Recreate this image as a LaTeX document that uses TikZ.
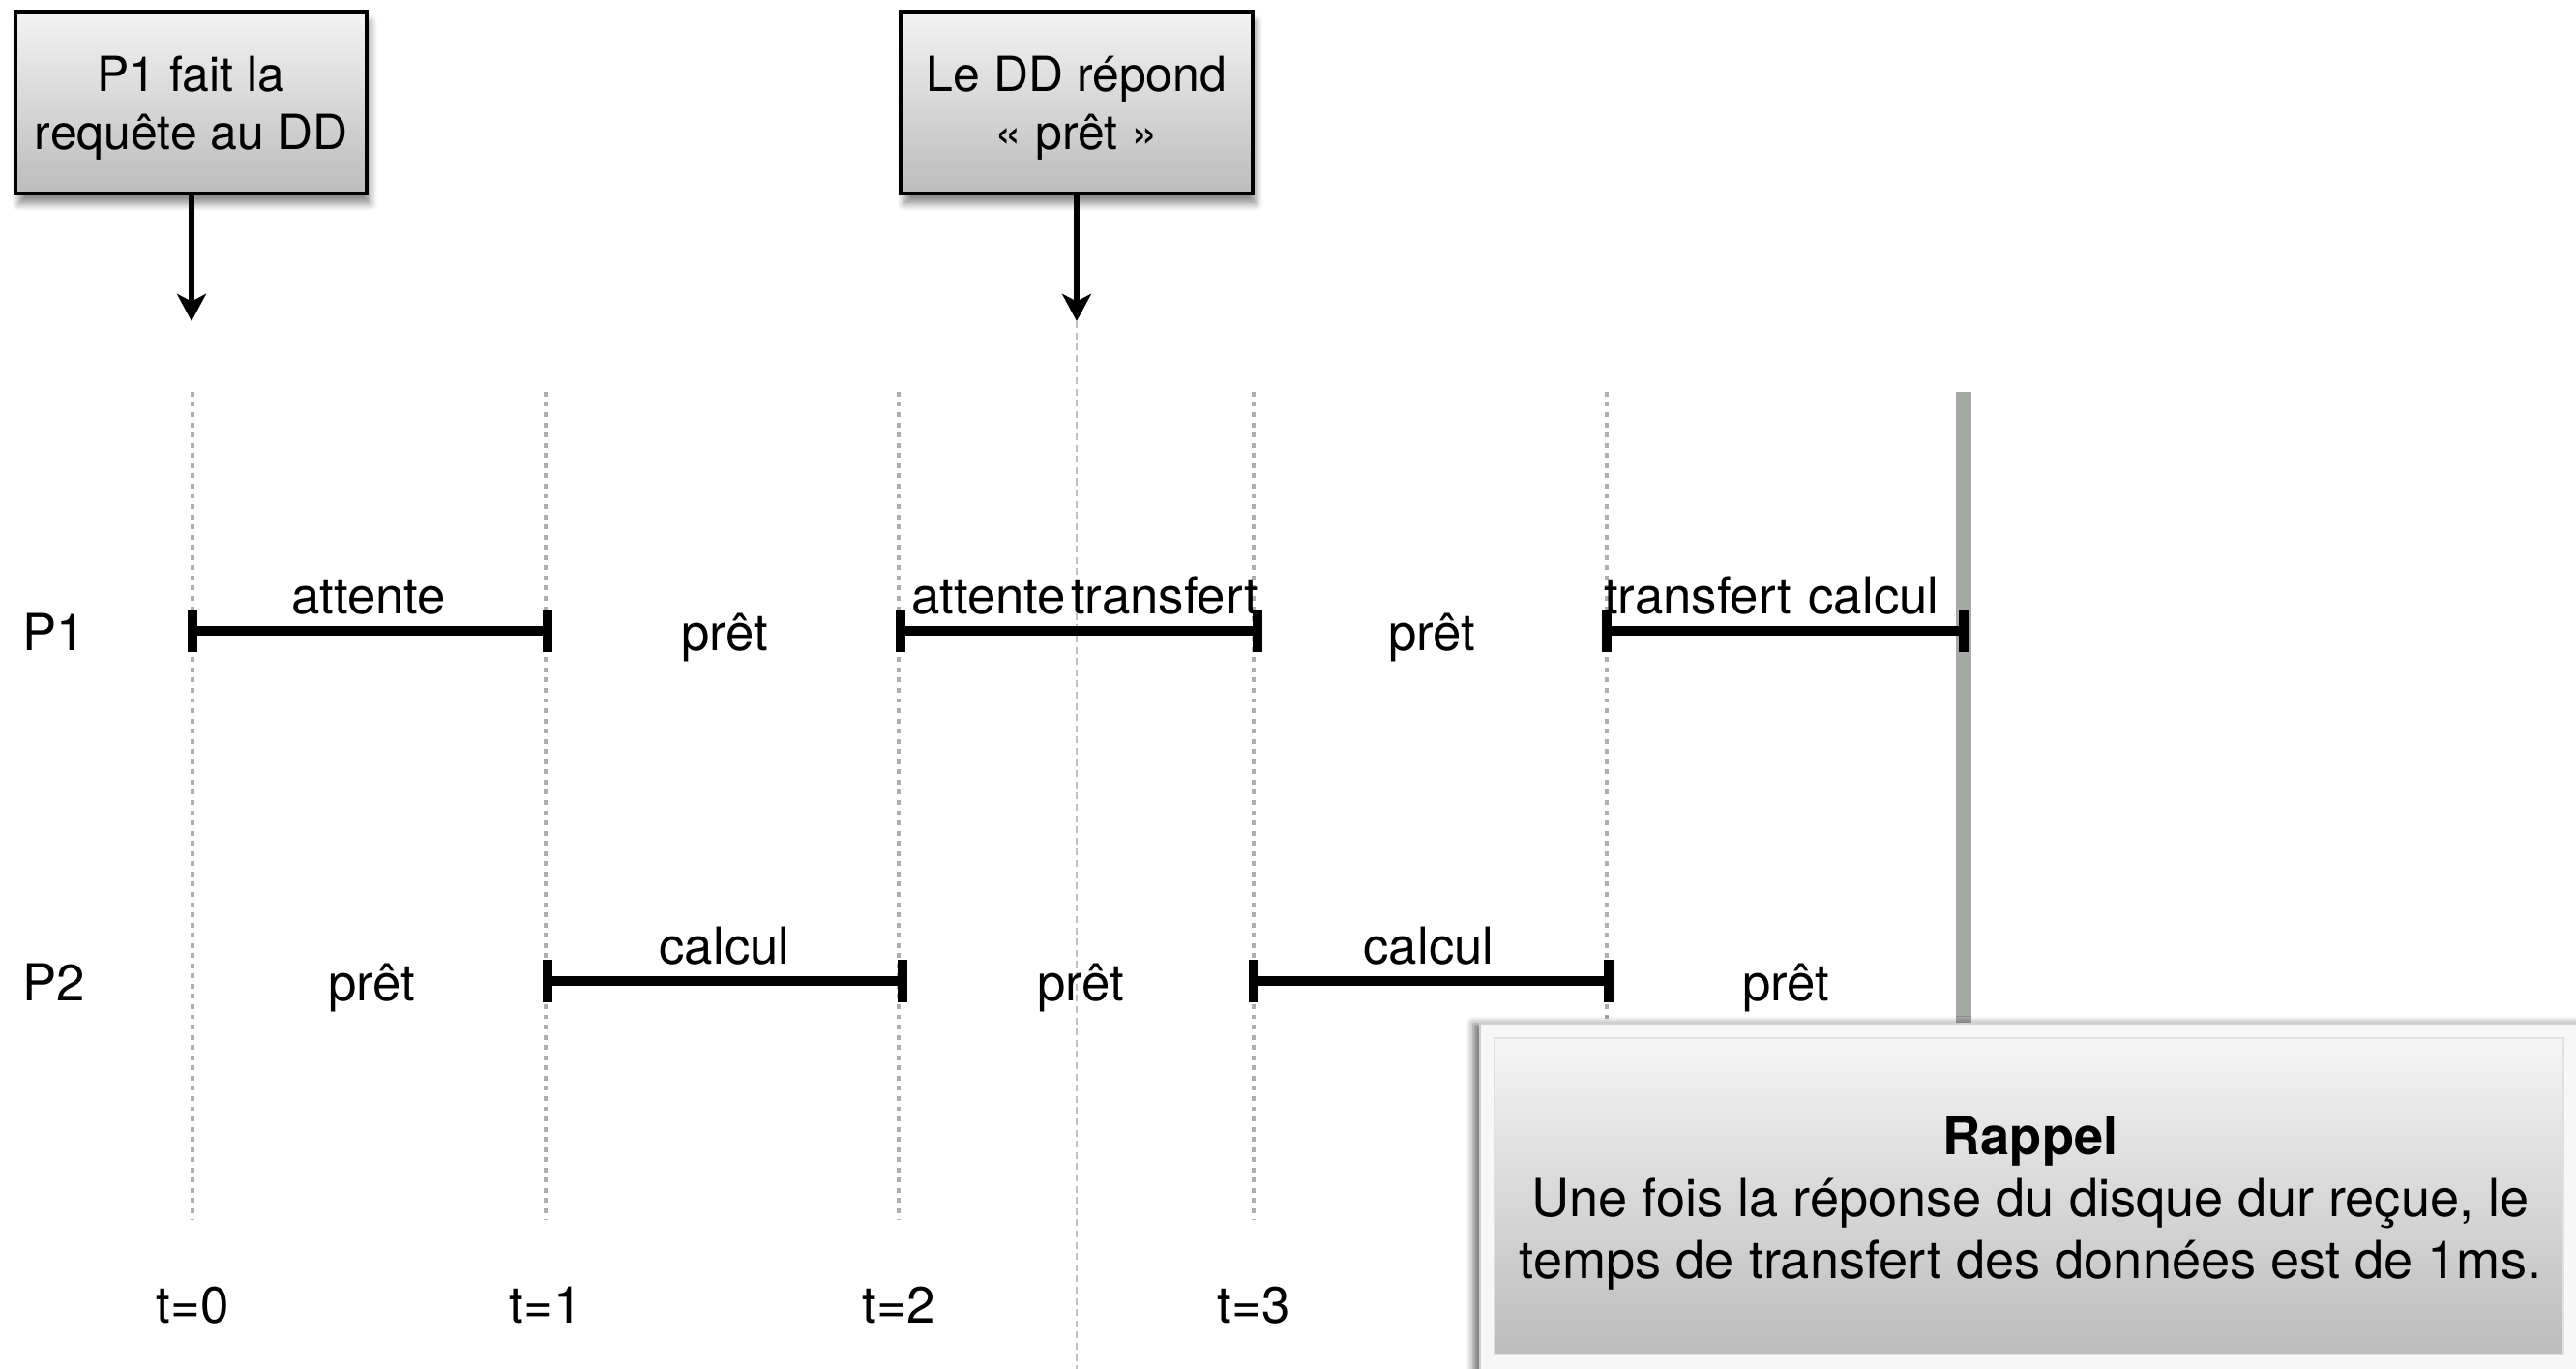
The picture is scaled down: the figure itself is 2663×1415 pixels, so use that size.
\documentclass[tikz,border=0pt]{standalone}
\usepackage{fontspec}
\setmainfont{TeX Gyre Heros}
\usetikzlibrary{arrows.meta,shadows.blur}
\definecolor{gridgray}{HTML}{AEAEAE}
\definecolor{midgray}{HTML}{C0C0C0}
\definecolor{bargray}{HTML}{A6A8A6}
\definecolor{boxtop}{HTML}{F3F3F3}
\definecolor{boxbottom}{HTML}{BCBCBC}
\tikzset{
  eventbox/.style={draw=black, line width=1.1pt, top color=boxtop, bottom color=boxbottom,
    minimum width=3.63cm, minimum height=1.88cm, inner sep=0pt,
    blur shadow={shadow xshift=1pt, shadow yshift=-3pt, shadow blur steps=6, shadow opacity=45}},
  eventtext/.style={align=center, inner sep=0pt, font=\fontsize{14.2}{17.1}\selectfont},
  eventarrow/.style={line width=1.5pt, -{Stealth[length=8pt,width=8.5pt,inset=2.2pt]}},
  timeline/.style={gridgray, line width=1.4pt, dash pattern=on 1.4pt off 1.6pt},
  midline/.style={midgray, line width=0.6pt, dash pattern=on 2pt off 1.3pt},
  busy/.style={line width=3.1pt, to path={(\tikztostart) -- (\tikztotarget)
      (\tikztostart) ++(0,-22) -- ++(0,44) (\tikztotarget) ++(0,-22) -- ++(0,44)}},
  lbl/.style={font=\fontsize{15}{18}\selectfont, anchor=base, inner sep=0pt},
  memobox/.style={draw=white!88!black, line width=0.6pt, top color=white!96!black,
    bottom color=boxbottom, minimum width=11.05cm, minimum height=3.27cm, inner sep=0pt},
  memotext/.style={align=center, inner sep=0pt, font=\fontsize{15.4}{18.2}\selectfont},
}
\begin{document}
\begin{tikzpicture}[x=0.01cm, y=-0.01cm]
\useasboundingbox (0,0) rectangle (2663,1415);

% time grid
\foreach \n/\x in {0/199, 1/564, 2/929, 3/1296, 4/1661} {
  \coordinate (g\n top) at (\x,405);
  \coordinate (g\n bot) at (\x,1261);
  \draw[timeline] (g\n top) -- (g\n bot);
}

% events at the top
\node[eventbox] (req) at (197.5,106) {};
\node[eventtext] (reqtext) at (197.5,112) {P1 fait la\\requête au DD};
\node[eventbox] (rdy) at (1113,106) {};
\node[eventtext] (rdytext) at (1113,112) {Le DD répond\\« prêt »};
\coordinate (reqtip) at (198,332);
\coordinate (rdytip) at (1113,332);
\coordinate (rdyend) at (1113,1415);
\draw[midline] (rdytip) -- (rdyend);
\draw[eventarrow] (req.south -| reqtip) -- (reqtip);
\draw[eventarrow] (rdy.south) -- (rdytip);

% end of the schedule
\coordinate (endtop) at (2030,405);
\coordinate (endbot) at (2030,1100);
\draw[bargray, line width=4.3pt] (endtop) -- (endbot);

% process names
\node[lbl] (p1) at (56,672) {P1};
\node[lbl] (p2) at (56,1034) {P2};

% P1 row
\coordinate (a0) at (199,652);
\coordinate (a1) at (566,652);
\coordinate (a2) at (931,652);
\coordinate (a3) at (1300,652);
\coordinate (a4) at (1661,652);
\coordinate (a5) at (2030,652);
\draw[busy] (a0) to (a1);
\draw[busy] (a2) to (a3);
\draw[busy] (a4) to (a5);
\node[lbl] (p1wait1) at (381,634) {attente};
\node[lbl] (p1rdy1) at (749,672) {prêt};
\node[lbl] (p1wait2) at (1022,634) {attente};
\node[lbl] (p1xfer1) at (1204,634) {transfert};
\node[lbl] (p1rdy2) at (1480,672) {prêt};
\node[lbl] (p1xfer2) at (1755,634) {transfert};
\node[lbl] (p1calc) at (1937,634) {calcul};

% P2 row
\coordinate (b1) at (566,1014);
\coordinate (b2) at (933,1014);
\coordinate (b3) at (1296,1014);
\coordinate (b4) at (1663,1014);
\draw[busy] (b1) to (b2);
\draw[busy] (b3) to (b4);
\node[lbl] (p2rdy1) at (384,1034) {prêt};
\node[lbl] (p2calc1) at (749,996) {calcul};
\node[lbl] (p2rdy2) at (1117,1034) {prêt};
\node[lbl] (p2calc2) at (1477,996) {calcul};
\node[lbl] (p2rdy3) at (1846,1034) {prêt};

% time labels
\node[lbl] (t0) at (199,1367) {t=0};
\node[lbl] (t1) at (564,1367) {t=1};
\node[lbl] (t2) at (929,1367) {t=2};
\node[lbl] (t3) at (1296,1367) {t=3};

% reminder
\draw[draw=white!82!black, line width=0.8pt, fill=white!97!black,
  blur shadow={shadow xshift=-2pt, shadow yshift=0pt, shadow blur steps=5, shadow opacity=55}]
  (1530,1058) rectangle (2720,1460);
\node[memobox] (memo) at (2097.5,1236.5) {};
\node[memotext] (memotext) at (2099,1244)
  {\textbf{Rappel}\\Une fois la réponse du disque dur reçue, le\\temps de transfert des données est de 1ms.};
\end{tikzpicture}
\end{document}
